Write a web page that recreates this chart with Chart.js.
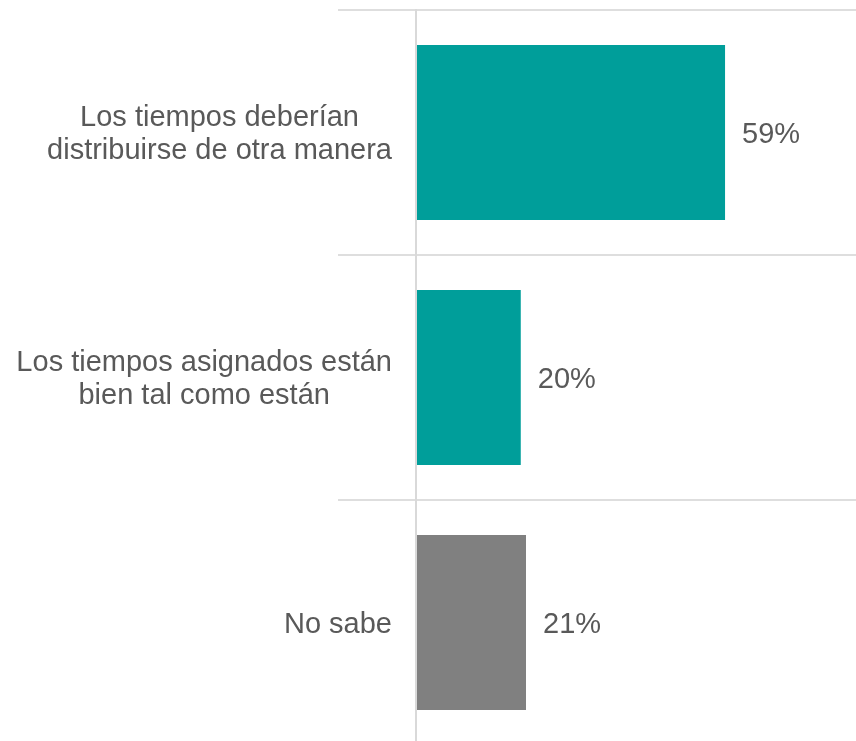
<!DOCTYPE html>
<html>
<head>
<meta charset="utf-8">
<script src="https://cdn.jsdelivr.net/npm/chart.js@4"></script>
<style>
  html, body { margin: 0; padding: 0; background: #fff; overflow: hidden; }
  #wrap { position: relative; width: 856px; height: 750px; }
</style>
</head>
<body>
<div id="wrap"><canvas id="chart"></canvas></div>
<script>
// Data
const categories = [
  ["Los tiempos deberían", "distribuirse de otra manera"],
  ["Los tiempos asignados están", "bien tal como están"],
  ["No sabe"]
];
const values = [59, 20, 21];
const barColors = ["#009e9a", "#009e9a", "#808080"];

const textColor = "#595959";
const fontFamily = "'Liberation Sans', Arial, sans-serif";
const fontSize = 29;

// Draws category labels (centred lines, right-aligned block) and value labels
const labelPlugin = {
  id: "labels",
  afterDatasetsDraw(chart) {
    const ctx = chart.ctx;
    const yScale = chart.scales.y;
    const lineH = 33;
    ctx.save();
    ctx.font = fontSize + "px " + fontFamily;
    ctx.fillStyle = textColor;
    ctx.textBaseline = "middle";

    // category labels
    categories.forEach(function (lines, i) {
      const y = yScale.getPixelForTick(i) + 2;
      let w = 0;
      lines.forEach(function (l) { w = Math.max(w, ctx.measureText(l).width); });
      const cx = yScale.right - 24 - w / 2;
      ctx.textAlign = "center";
      lines.forEach(function (l, j) {
        ctx.fillText(l, cx, y + (j - (lines.length - 1) / 2) * lineH);
      });
    });

    // value labels
    const meta = chart.getDatasetMeta(0);
    ctx.textAlign = "left";
    meta.data.forEach(function (bar, i) {
      ctx.fillText(values[i] + "%", bar.x + 17, bar.y + 2);
    });
    ctx.restore();
  }
};

new Chart(document.getElementById("chart"), {
  type: "bar",
  data: {
    labels: categories,
    datasets: [{
      data: values,
      backgroundColor: barColors,
      borderWidth: 0,
      barPercentage: 1,
      categoryPercentage: 0.714
    }]
  },
  options: {
    indexAxis: "y",
    responsive: true,
    maintainAspectRatio: false,
    animation: false,
    layout: { padding: { top: 10, bottom: 5, left: 0, right: 0 } },
    plugins: {
      legend: { display: false },
      tooltip: { enabled: false }
    },
    scales: {
      x: {
        display: false,
        min: 0,
        max: 84
      },
      y: {
        offset: true,
        ticks: { display: false },
        grid: {
          offset: true,
          color: "#dedede",
          lineWidth: 2,
          drawTicks: true,
          tickLength: 78
        },
        border: { display: true, color: "#d9d9d9", width: 2, z: 1 },
        afterFit(scale) { scale.width = 416; }
      }
    }
  },
  plugins: [labelPlugin]
});
</script>
</body>
</html>
